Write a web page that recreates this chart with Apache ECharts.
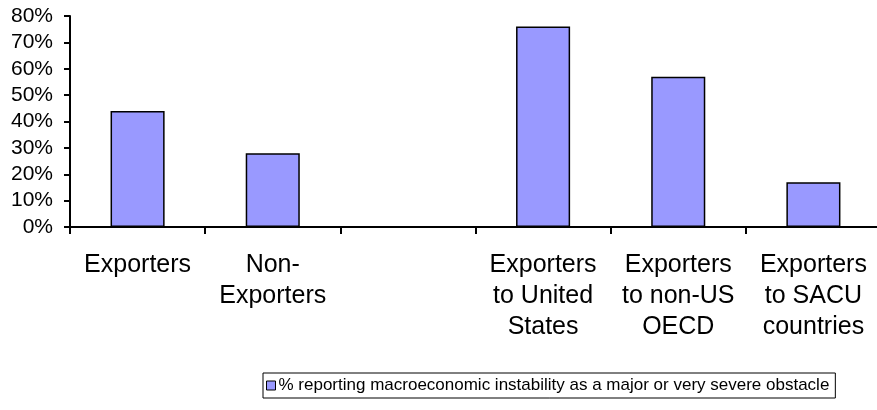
<!DOCTYPE html>
<html>
<head>
<meta charset="utf-8">
<script src="https://cdn.jsdelivr.net/npm/echarts@6/dist/echarts.min.js"></script>
<style>
  html, body { margin: 0; padding: 0; background: #fff; overflow: hidden; }
  #chart { width: 892px; height: 410px; }
</style>
</head>
<body>
<div id="chart"></div>
<script>
// Firm groups (one empty slot separates the two groups)
const categories = [
  'Exporters',
  'Non-\nExporters',
  '',
  'Exporters\nto United\nStates',
  'Exporters\nto non-US\nOECD',
  'Exporters\nto SACU\ncountries'
];
// Share of firms reporting macroeconomic instability as a major obstacle (%)
const shareValues = [44, 28, null, 76, 57, 17];
const seriesName = '% reporting macroeconomic instability as a major or very severe obstacle';
const yTicks = { min: 0, max: 80, interval: 10 };

const font = '"Liberation Sans", Arial, sans-serif';
const chart = echarts.init(document.getElementById('chart'));
chart.setOption({
  animation: false,
  textStyle: { fontFamily: font, color: '#000' },
  // the plot runs slightly past the right edge of the visible page
  grid: { left: 70, top: 16, bottom: 183, width: 811, containLabel: false },
  legend: {
    data: [seriesName],
    left: 263,
    top: 373,
    icon: 'rect',
    itemWidth: 9,
    itemHeight: 9,
    itemGap: 4,
    padding: [4, 6, 4, 3],
    borderColor: '#000',
    borderWidth: 1,
    textStyle: { fontFamily: font, fontSize: 17, color: '#000', padding: [0, 0, 0, -2] },
    itemStyle: { color: '#9999FF', borderColor: '#000', borderWidth: 1 }
  },
  xAxis: {
    type: 'category',
    data: categories,
    axisLine: { lineStyle: { color: '#000', width: 2 } },
    axisTick: { show: true, inside: false, length: 7, alignWithLabel: false, lineStyle: { color: '#000', width: 2 } },
    axisLabel: {
      interval: 0,
      margin: 23,
      fontFamily: font,
      fontSize: 25,
      lineHeight: 31,
      color: '#000',
      align: 'center'
    },
    splitLine: { show: false }
  },
  yAxis: {
    type: 'value',
    min: yTicks.min,
    max: yTicks.max,
    interval: yTicks.interval,
    axisLine: { show: true, lineStyle: { color: '#000', width: 2 } },
    axisTick: { show: true, inside: false, length: 6, lineStyle: { color: '#000', width: 2 } },
    axisLabel: {
      formatter: '{value}%',
      fontFamily: font,
      fontSize: 21,
      color: '#000',
      margin: 17
    },
    splitLine: { show: false }
  },
  series: [{
    name: seriesName,
    type: 'bar',
    data: shareValues,
    barWidth: '40%',
    itemStyle: { color: '#9999FF', borderColor: '#000', borderWidth: 1.5 }
  }]
});
</script>
</body>
</html>
